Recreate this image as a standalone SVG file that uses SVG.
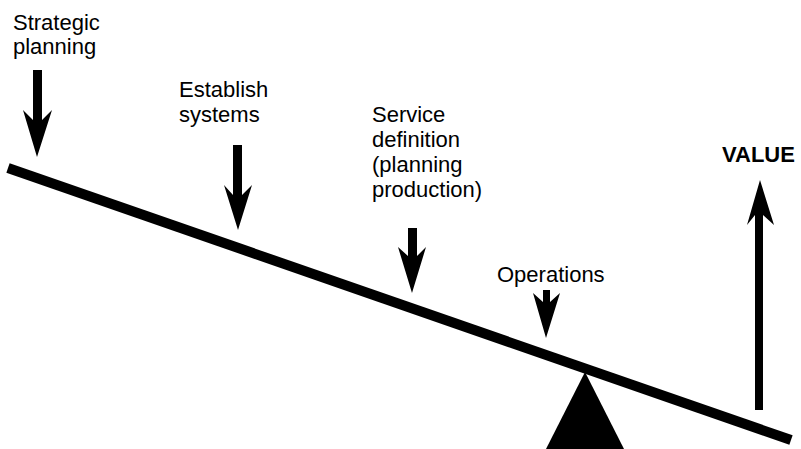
<svg xmlns="http://www.w3.org/2000/svg" width="801" height="449" viewBox="0 0 801 449">
<style>
  text { font-family: "Liberation Sans", Arial, sans-serif; font-size: 22px; fill: #000; }
  .bold { font-weight: bold; font-size: 22px; }
  .shape { fill: #000; stroke: none; }
</style>
<rect width="801" height="449" fill="#fff"/>
<g id="beam">
  <line x1="8" y1="168" x2="791" y2="440" stroke="#000" stroke-width="10"/>
</g>
<g id="fulcrum">
  <polygon class="shape" points="585,372 546,449 624,449"/>
</g>
<g id="strategic-planning">
  <text x="13" y="30">Strategic</text>
  <text x="13" y="54">planning</text>
</g>
<g id="establish-systems">
  <text x="179" y="97">Establish</text>
  <text x="179" y="122">systems</text>
</g>
<g id="service-definition">
  <text x="372" y="122">Service</text>
  <text x="372" y="147">definition</text>
  <text x="372" y="172">(planning</text>
  <text x="372" y="197">production)</text>
</g>
<g id="operations">
  <text x="497" y="282">Operations</text>
</g>
<g id="value">
  <text class="bold" x="722" y="162">VALUE</text>
</g>
<g id="connectors">
  <polygon class="shape" points="33,70 42,70 42,120 52,110 37,157 23,110 33,120"/>
  <polygon class="shape" points="233,145 242,145 242,195 252,185 238,230 224,185 233,195"/>
  <polygon class="shape" points="408,228 417,228 417,256 426,247 412,293 398,247 408,256"/>
  <polygon class="shape" points="543,290 550,290 550,302 560,293 546,338 533,293 543,302"/>
  <polygon class="shape" points="755,410 763,410 763,215 774,225 760,180 747,225 755,215"/>
</g>
</svg>
